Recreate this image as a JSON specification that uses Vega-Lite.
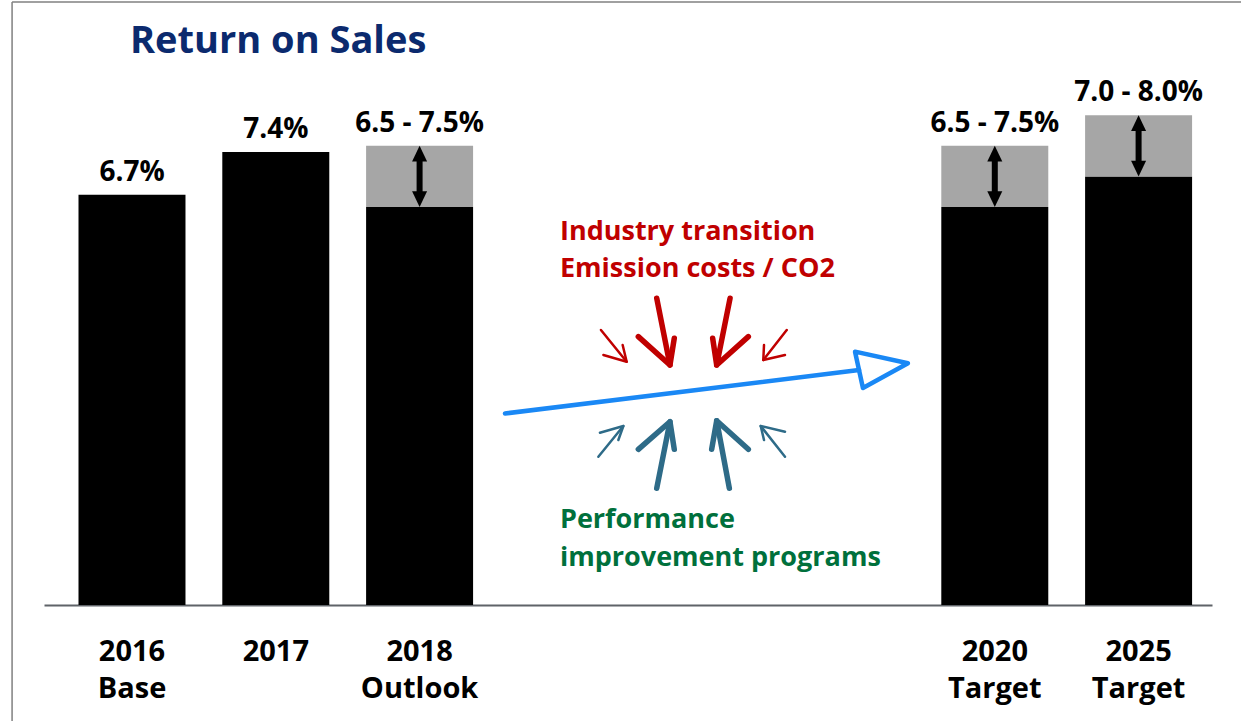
{
  "$schema": "https://vega.github.io/schema/vega-lite/v6.json",
  "width": 1168,
  "height": 551,
  "autosize": {"type": "none"},
  "padding": {"left": 44, "top": 54, "right": 29, "bottom": 116},
  "background": "white",
  "config": {"view": {"stroke": null}, "font": "Open Sans"},
  "title": {"text": "Return on Sales", "anchor": "start", "frame": "group", "dx": 86, "offset": 0, "dy": 90, "baseline": "alphabetic", "font": "Open Sans", "fontSize": 38, "fontWeight": "bold", "color": "#0b2a6e"},
  "datasets": {
    "bars": [
      {"cat": "2016 Base", "value": 6.7, "upper": null, "label": "6.7%"},
      {"cat": "2017", "value": 7.4, "upper": null, "label": "7.4%"},
      {"cat": "2018 Outlook", "value": 6.5, "upper": 7.5, "label": "6.5 - 7.5%"},
      {"cat": "2020 Target", "value": 6.5, "upper": 7.5, "label": "6.5 - 7.5%"},
      {"cat": "2025 Target", "value": 7.0, "upper": 8.0, "label": "7.0 - 8.0%"}
    ],
    "redNotes": [
      {"text": "Industry transition", "i": 2.976, "v": 5.962},
      {"text": "Emission costs / CO2", "i": 2.976, "v": 5.358}
    ],
    "greenNotes": [
      {"text": "Performance", "i": 2.976, "v": 1.258},
      {"text": "improvement programs", "i": 2.976, "v": 0.642}
    ],
    "redBig": [
      {"seg": "a-shaft", "k": 0, "i": 3.649, "v": 5.010},
      {"seg": "a-shaft", "k": 1, "i": 3.741, "v": 3.920},
      {"seg": "a-head", "k": 0, "i": 3.521, "v": 4.383},
      {"seg": "a-head", "k": 1, "i": 3.741, "v": 3.920},
      {"seg": "a-head", "k": 2, "i": 3.771, "v": 4.357},
      {"seg": "b-shaft", "k": 0, "i": 4.159, "v": 5.010},
      {"seg": "b-shaft", "k": 1, "i": 4.066, "v": 3.920},
      {"seg": "b-head", "k": 0, "i": 4.038, "v": 4.357},
      {"seg": "b-head", "k": 1, "i": 4.066, "v": 3.920},
      {"seg": "b-head", "k": 2, "i": 4.286, "v": 4.383}
    ],
    "redSmall": [
      {"seg": "a-shaft", "k": 0, "i": 3.261, "v": 4.492},
      {"seg": "a-shaft", "k": 1, "i": 3.440, "v": 3.974},
      {"seg": "a-head", "k": 0, "i": 3.278, "v": 4.084},
      {"seg": "a-head", "k": 1, "i": 3.440, "v": 3.974},
      {"seg": "a-head", "k": 2, "i": 3.412, "v": 4.247},
      {"seg": "b-shaft", "k": 0, "i": 4.553, "v": 4.492},
      {"seg": "b-shaft", "k": 1, "i": 4.390, "v": 4.002},
      {"seg": "b-head", "k": 0, "i": 4.395, "v": 4.247},
      {"seg": "b-head", "k": 1, "i": 4.390, "v": 4.002},
      {"seg": "b-head", "k": 2, "i": 4.541, "v": 4.084}
    ],
    "tealBig": [
      {"seg": "a-shaft", "k": 0, "i": 3.649, "v": 1.906},
      {"seg": "a-shaft", "k": 1, "i": 3.741, "v": 2.994},
      {"seg": "a-head", "k": 0, "i": 3.521, "v": 2.543},
      {"seg": "a-head", "k": 1, "i": 3.741, "v": 2.994},
      {"seg": "a-head", "k": 2, "i": 3.771, "v": 2.543},
      {"seg": "b-shaft", "k": 0, "i": 4.154, "v": 1.906},
      {"seg": "b-shaft", "k": 1, "i": 4.066, "v": 3.010},
      {"seg": "b-head", "k": 0, "i": 4.031, "v": 2.543},
      {"seg": "b-head", "k": 1, "i": 4.066, "v": 3.010},
      {"seg": "b-head", "k": 2, "i": 4.286, "v": 2.543}
    ],
    "tealSmall": [
      {"seg": "a-shaft", "k": 0, "i": 3.243, "v": 2.422},
      {"seg": "a-shaft", "k": 1, "i": 3.417, "v": 2.924},
      {"seg": "a-head", "k": 0, "i": 3.254, "v": 2.814},
      {"seg": "a-head", "k": 1, "i": 3.417, "v": 2.924},
      {"seg": "a-head", "k": 2, "i": 3.382, "v": 2.695},
      {"seg": "b-shaft", "k": 0, "i": 4.541, "v": 2.422},
      {"seg": "b-shaft", "k": 1, "i": 4.372, "v": 2.924},
      {"seg": "b-head", "k": 0, "i": 4.541, "v": 2.831},
      {"seg": "b-head", "k": 1, "i": 4.372, "v": 2.924},
      {"seg": "b-head", "k": 2, "i": 4.395, "v": 2.695}
    ],
    "blue": [
      {"seg": "shaft", "k": 0, "i": 2.594, "v": 3.128},
      {"seg": "shaft", "k": 1, "i": 5.056, "v": 3.839},
      {"seg": "head", "k": 0, "i": 5.028, "v": 4.138},
      {"seg": "head", "k": 1, "i": 5.396, "v": 3.948},
      {"seg": "head", "k": 2, "i": 5.083, "v": 3.545},
      {"seg": "head", "k": 3, "i": 5.028, "v": 4.138}
    ],
    "frame": [
      {"i": -0.834, "v": -2.0, "i2": -0.834, "v2": 9.85},
      {"i": -0.834, "v": 9.85, "i2": 7.8, "v2": 9.85}
    ]
  },
  "layer": [
    {
      "data": {"name": "bars"},
      "encoding": {
        "x": {
          "field": "cat", "type": "nominal", "sort": null,
          "scale": {"domain": ["2016 Base", "2017", "2018 Outlook", "gap1", "gap2", "gap3", "2020 Target", "2025 Target"], "paddingInner": 0.256, "paddingOuter": 0.1892, "align": 0.634},
          "axis": {"title": null, "orient": "bottom", "domain": true, "domainColor": "#5f6368", "domainWidth": 2, "ticks": false, "labelAngle": 0, "labelExpr": "indexof(datum.value, 'gap') >= 0 ? '' : split(datum.value, ' ')", "labelFont": "Open Sans", "labelFontSize": 29, "labelFontWeight": "bold", "labelColor": "#000000", "labelLineHeight": 37, "labelPadding": 32}
        }
      },
      "layer": [
        {
          "mark": {"type": "bar", "color": "#000000"},
          "encoding": {"y": {"field": "value", "type": "quantitative", "scale": {"domain": [0, 9], "nice": false, "zero": true}, "axis": null}}
        },
        {
          "transform": [{"filter": "isValid(datum.upper)"}],
          "mark": {"type": "bar", "color": "#a6a6a6"},
          "encoding": {
            "y": {"field": "value", "type": "quantitative", "scale": {"domain": [0, 9], "nice": false, "zero": true}, "axis": null},
            "y2": {"field": "upper"}
          }
        },
        {
          "transform": [{"filter": "isValid(datum.upper)"}],
          "mark": {"type": "rule", "color": "#000000", "strokeWidth": 6, "yOffset": 10, "y2Offset": -10},
          "encoding": {
            "y": {"field": "upper", "type": "quantitative", "scale": {"domain": [0, 9], "nice": false, "zero": true}, "axis": null},
            "y2": {"field": "value"}
          }
        },
        {
          "transform": [{"filter": "isValid(datum.upper)"}],
          "mark": {"type": "point", "shape": "M0,0 L-1,2.1 L1,2.1 Z", "size": 225, "filled": true, "color": "#000000", "opacity": 1, "strokeWidth": 0},
          "encoding": {"y": {"field": "upper", "type": "quantitative", "scale": {"domain": [0, 9], "nice": false, "zero": true}, "axis": null}}
        },
        {
          "transform": [{"filter": "isValid(datum.upper)"}],
          "mark": {"type": "point", "shape": "M0,0 L-1,-2.1 L1,-2.1 Z", "size": 225, "filled": true, "color": "#000000", "opacity": 1, "strokeWidth": 0},
          "encoding": {"y": {"field": "value", "type": "quantitative", "scale": {"domain": [0, 9], "nice": false, "zero": true}, "axis": null}}
        },
        {
          "transform": [{"filter": "isValid(datum.upper)"}],
          "mark": {"type": "text", "font": "Open Sans", "fontSize": 28, "fontWeight": "bold", "color": "#000000", "baseline": "alphabetic", "dy": -14},
          "encoding": {
            "y": {"field": "upper", "type": "quantitative", "scale": {"domain": [0, 9], "nice": false, "zero": true}, "axis": null},
            "text": {"field": "label"}
          }
        },
        {
          "transform": [{"filter": "!isValid(datum.upper)"}],
          "mark": {"type": "text", "font": "Open Sans", "fontSize": 28, "fontWeight": "bold", "color": "#000000", "baseline": "alphabetic", "dy": -14},
          "encoding": {
            "y": {"field": "value", "type": "quantitative", "scale": {"domain": [0, 9], "nice": false, "zero": true}, "axis": null},
            "text": {"field": "label"}
          }
        }
      ]
    },
    {
      "encoding": {
        "x": {"field": "i", "type": "quantitative", "scale": {"domain": [-0.612, 7.5104], "nice": false, "zero": false}, "axis": null},
        "y": {"field": "v", "type": "quantitative", "scale": {"domain": [0, 9], "nice": false, "zero": true}, "axis": null}
      },
      "layer": [
        {
          "data": {"name": "frame"},
          "mark": {"type": "rule", "color": "#808080", "strokeWidth": 1.5},
          "encoding": {"x2": {"field": "i2"}, "y2": {"field": "v2"}}
        },
        {
          "data": {"name": "blue"},
          "mark": {"type": "line", "color": "#1a88f5", "strokeWidth": 4.5, "strokeCap": "round", "strokeJoin": "round"},
          "encoding": {"detail": {"field": "seg"}, "order": {"field": "k"}}
        },
        {
          "data": {"name": "redBig"},
          "mark": {"type": "line", "color": "#c00000", "strokeWidth": 5.5, "strokeCap": "round", "strokeJoin": "round"},
          "encoding": {"detail": {"field": "seg"}, "order": {"field": "k"}}
        },
        {
          "data": {"name": "redSmall"},
          "mark": {"type": "line", "color": "#c00000", "strokeWidth": 2.5, "strokeCap": "round", "strokeJoin": "round"},
          "encoding": {"detail": {"field": "seg"}, "order": {"field": "k"}}
        },
        {
          "data": {"name": "tealBig"},
          "mark": {"type": "line", "color": "#2e6b88", "strokeWidth": 5.5, "strokeCap": "round", "strokeJoin": "round"},
          "encoding": {"detail": {"field": "seg"}, "order": {"field": "k"}}
        },
        {
          "data": {"name": "tealSmall"},
          "mark": {"type": "line", "color": "#2e6b88", "strokeWidth": 2.5, "strokeCap": "round", "strokeJoin": "round"},
          "encoding": {"detail": {"field": "seg"}, "order": {"field": "k"}}
        },
        {
          "data": {"name": "redNotes"},
          "mark": {"type": "text", "align": "left", "baseline": "alphabetic", "font": "Open Sans", "fontSize": 27, "fontWeight": "bold", "color": "#c00000"},
          "encoding": {"text": {"field": "text"}}
        },
        {
          "data": {"name": "greenNotes"},
          "mark": {"type": "text", "align": "left", "baseline": "alphabetic", "font": "Open Sans", "fontSize": 27, "fontWeight": "bold", "color": "#00703c"},
          "encoding": {"text": {"field": "text"}}
        }
      ]
    }
  ],
  "resolve": {"scale": {"x": "independent"}}
}
